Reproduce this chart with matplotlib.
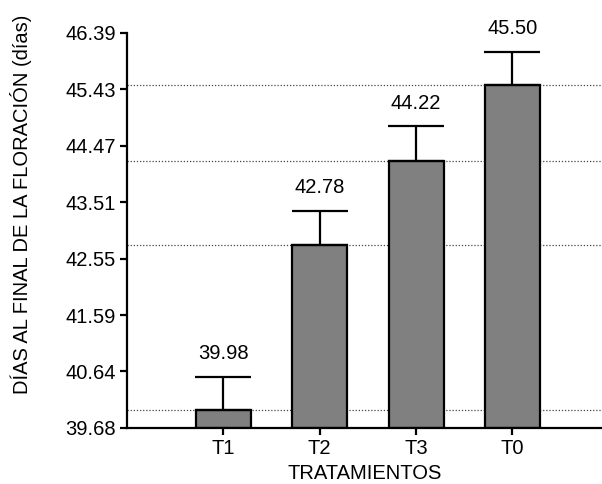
import matplotlib.pyplot as plt
import numpy as np

plt.rcParams['font.family'] = ['Liberation Sans', 'DejaVu Sans']

# Data
tratamientos = ['T1', 'T2', 'T3', 'T0']
dias = [39.98, 42.78, 44.22, 45.50]
error = [0.57, 0.59, 0.58, 0.57]
y_ticks = [39.68, 40.64, 41.59, 42.55, 43.51, 44.47, 45.43, 46.39]

fig = plt.figure(figsize=(6.02, 4.84), dpi=100)
ax = fig.add_axes([0.211, 0.116, 0.789, 0.816])

x = np.arange(len(tratamientos))
y_min = y_ticks[0]

# Dotted reference lines at each bar height
for v in dias:
    ax.axhline(v, color='#444444', linestyle=(0, (1, 1.5)), linewidth=0.9, zorder=1)

heights = [v - y_min for v in dias]
ax.bar(x, heights, bottom=y_min, width=0.57, color='#808080',
       edgecolor='black', linewidth=1.6, zorder=2)
ax.errorbar(x, dias, yerr=[np.zeros(len(dias)), error], fmt='none',
            ecolor='black', elinewidth=1.6, capsize=20, capthick=1.6, zorder=3)

for xi, v, e in zip(x, dias, error):
    ax.annotate(f'{v:.2f}', (xi, v + e), xytext=(0, 10), textcoords='offset points',
                ha='center', va='bottom', fontsize=14.5)

ax.set_xlim(-1.0, 3.93)
ax.set_ylim(y_min, y_ticks[-1])
ax.set_yticks(y_ticks)
ax.set_yticklabels([f'{t:.2f}' for t in y_ticks], fontsize=14.5)
ax.set_xticks(x)
ax.set_xticklabels(tratamientos, fontsize=14.5)

ax.spines['top'].set_visible(False)
ax.spines['right'].set_visible(False)
ax.spines['left'].set_linewidth(1.6)
ax.spines['bottom'].set_linewidth(1.6)
ax.tick_params(axis='both', direction='out', length=5, width=1.6, pad=3)

ax.set_xlabel('TRATAMIENTOS', fontsize=14.5, labelpad=4)
ax.set_ylabel('DÍAS AL FINAL DE LA FLORACIÓN (días)', fontsize=14.5)
ax.yaxis.set_label_coords(-0.2, 0.565)

fig.savefig('out.png', dpi=100)
